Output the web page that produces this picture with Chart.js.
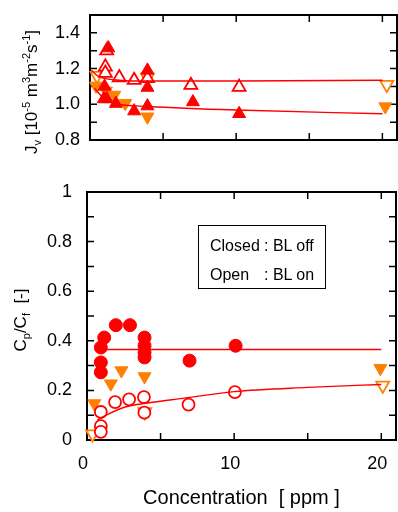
<!DOCTYPE html>
<html>
<head>
<meta charset="utf-8">
<script src="https://cdn.jsdelivr.net/npm/chart.js@4.4.0/dist/chart.umd.min.js"></script>
<style>
  body { margin: 0; width: 398px; height: 512px; background: #fff; position: relative; overflow: hidden;
         font-family: "Liberation Sans", Arial, sans-serif; }
  #top { position: absolute; left: 0; top: 0; }
  #bot { position: absolute; left: 0; top: 170px; }
  #legend { position: absolute; left: 198px; top: 225px; width: 128px; height: 64px; border: 1px solid #000;
            font-size: 16px; color: #000; box-sizing: border-box; padding: 5px 0 0 11px; }
  #legend .row { height: 29px; line-height: 29px; white-space: nowrap; }
  #legend .k { display: inline-block; width: 54px; }
</style>
</head>
<body>
<canvas id="top" width="398" height="160"></canvas>
<canvas id="bot" width="398" height="342"></canvas>
<div id="legend">
  <div class="row"><span class="k">Closed</span>: BL off</div>
  <div class="row"><span class="k">Open</span>: BL on</div>
</div>
<script>
const RED = '#ff0000';
const ORANGE = '#ff8000';
const FONT = '"Liberation Sans", Arial, sans-serif';

// upper panel: permeate flux Jv
const jvOpenX = [1.14, 1.05, 1.05, 2.0, 3.02, 3.93, 6.9, 10.2];
const jvOpenY = [1.30, 1.21, 1.175, 1.15, 1.135, 1.145, 1.107, 1.096];
const jvClosedX = [1.25, 1.0, 0.95, 1.15, 1.77, 3.02, 3.93, 3.93, 3.93, 7.04, 10.2];
const jvClosedY = [1.315, 1.10, 1.03, 1.03, 1.004, 0.962, 1.19, 1.094, 0.99, 1.013, 0.947];
const jvBlOnX = [0.48, 3.93, 20.3];
const jvBlOnY = [1.16, 1.15, 1.11];
const jvBlOffX = [0.41, 1.09, 1.66, 2.41, 3.93, 20.2];
const jvBlOffY = [1.103, 1.075, 1.052, 1.006, 0.93, 0.987];
const jvFitOpenX = [0.1, 0.5, 1, 2, 4, 10, 20];
const jvFitOpenY = [1.19, 1.16, 1.145, 1.135, 1.13, 1.13, 1.135];
const jvFitClosedX = [0.3, 1, 2, 4, 10, 20];
const jvFitClosedY = [1.09, 1.03, 1.0, 0.988, 0.968, 0.947];

// lower panel: Cp/Cf
const cpClosedX = [0.94, 0.94, 0.94, 1.17, 1.96, 2.92, 3.91, 3.91, 3.91, 3.91, 6.97, 10.1];
const cpClosedY = [0.373, 0.313, 0.273, 0.413, 0.463, 0.463, 0.413, 0.38, 0.353, 0.333, 0.32, 0.38];
const cpOpenX = [0.94, 0.94, 0.94, 1.91, 2.86, 3.87, 3.9, 6.9, 10.05];
const cpOpenY = [0.113, 0.056, 0.033, 0.153, 0.164, 0.173, 0.11, 0.143, 0.193];
const cpBlOffX = [0.5, 0.94, 1.62, 2.34, 3.91, 19.94];
const cpBlOffY = [0.147, 0.297, 0.227, 0.28, 0.256, 0.289];
const cpBlOnX = [0.38, 3.93, 20.1];
const cpBlOnY = [0.024, 0.113, 0.22];
const cpFitClosedX = [1, 20];
const cpFitClosedY = [0.365, 0.365];
const cpFitOpenX = [0.7, 1.3, 2.6, 4, 6.5, 10, 15, 20];
const cpFitOpenY = [0.08, 0.1, 0.133, 0.148, 0.168, 0.195, 0.212, 0.224];

const xTicks = [0, 5, 10, 15, 20];
const xMarks = [5, 10, 15, 20];
const jvMarks = [0.9, 1.0, 1.1, 1.2, 1.3, 1.4];
const cpMarks = [0.1, 0.2, 0.3, 0.4, 0.5, 0.6, 0.7, 0.8, 0.9];

const jvTitle = [{t: 'J'}, {t: 'v', s: 'sub'}, {t: ' [10'}, {t: '-5', s: 'sup'}, {t: ' m'}, {t: '3', s: 'sup'},
                 {t: 'm'}, {t: '-2', s: 'sup'}, {t: 's'}, {t: '-1', s: 'sup'}, {t: ']'}];
const cpTitle = [{t: 'C'}, {t: 'p', s: 'sub'}, {t: '/C'}, {t: 'f', s: 'sub'}, {t: '  [-]'}];

function pts(xs, ys) {
  return xs.map((x, i) => ({x: x, y: ys[i]}));
}

function markers(xs, ys, shape, color, filled, down, r) {
  return {
    data: pts(xs, ys),
    showLine: false,
    pointStyle: shape,
    rotation: down ? 180 : 0,
    pointRadius: r,
    pointHoverRadius: r,
    pointBackgroundColor: filled ? color : '#fff',
    pointBorderColor: color,
    pointBorderWidth: filled ? 1 : 1.8,
    clip: false
  };
}

function fitLine(xs, ys) {
  return {
    data: pts(xs, ys),
    showLine: true,
    borderColor: RED,
    borderWidth: 1.4,
    pointRadius: 0,
    cubicInterpolationMode: 'monotone',
    clip: false
  };
}

function drawRich(ctx, parts, cx, cy, size) {
  const fontFor = p => (p.s ? Math.round(size * 0.65) : size) + 'px ' + FONT;
  ctx.save();
  ctx.translate(cx, cy);
  ctx.rotate(-Math.PI / 2);
  ctx.fillStyle = '#000';
  let w = 0;
  parts.forEach(p => { ctx.font = fontFor(p); w += ctx.measureText(p.t).width; });
  let xx = -w / 2;
  parts.forEach(p => {
    ctx.font = fontFor(p);
    let dy = 0;
    if (p.s === 'sub') dy = size * 0.22;
    if (p.s === 'sup') dy = -size * 0.4;
    ctx.fillText(p.t, xx, size * 0.36 + dy);
    xx += ctx.measureText(p.t).width;
  });
  ctx.restore();
}

// box frame with inward ticks on all four sides, plus the rotated y title
const framePlugin = {
  id: 'frame',
  beforeDatasetsDraw(chart, args, opts) {
    const {ctx, chartArea: a, scales: {x, y}} = chart;
    ctx.save();
    ctx.strokeStyle = '#000';
    ctx.lineWidth = 1.5;
    ctx.beginPath();
    opts.xMarks.forEach(v => {
      const p = x.getPixelForValue(v);
      ctx.moveTo(p, a.bottom); ctx.lineTo(p, a.bottom - 7);
      ctx.moveTo(p, a.top); ctx.lineTo(p, a.top + 7);
    });
    opts.yMarks.forEach(v => {
      const p = y.getPixelForValue(v);
      ctx.moveTo(a.left, p); ctx.lineTo(a.left + 7, p);
      ctx.moveTo(a.right, p); ctx.lineTo(a.right - 7, p);
    });
    ctx.stroke();
    ctx.lineWidth = 2;
    ctx.strokeRect(a.left, a.top, a.right - a.left, a.bottom - a.top);
    ctx.restore();
    drawRich(ctx, opts.title, opts.titleX, opts.titleY, opts.titleSize);
  }
};

const tickFont = {family: FONT, size: 18};

new Chart(document.getElementById('top'), {
  type: 'scatter',
  data: {
    datasets: [
      fitLine(jvFitOpenX, jvFitOpenY),
      fitLine(jvFitClosedX, jvFitClosedY),
      markers(jvClosedX, jvClosedY, 'triangle', RED, true, false, 7.5),
      markers(jvOpenX, jvOpenY, 'triangle', RED, false, false, 7.5),
      markers(jvBlOffX, jvBlOffY, 'triangle', ORANGE, true, true, 7.5),
      markers(jvBlOnX, jvBlOnY, 'triangle', ORANGE, false, true, 7.5)
    ]
  },
  options: {
    responsive: false,
    animation: false,
    events: [],
    layout: {autoPadding: false, padding: {top: 15, right: 1, left: 0, bottom: 0}},
    plugins: {
      legend: {display: false},
      tooltip: {enabled: false},
      frame: {xMarks: xMarks, yMarks: jvMarks, title: jvTitle, titleX: 31, titleY: 92, titleSize: 17}
    },
    scales: {
      x: {
        type: 'linear', min: 0, max: 21,
        grid: {display: false}, border: {display: false},
        ticks: {display: false},
        afterFit(s) { s.height = 20; }
      },
      y: {
        min: 0.8, max: 1.5,
        grid: {display: false, drawTicks: false}, border: {display: false},
        ticks: {
          stepSize: 0.1, autoSkip: false, padding: 10, color: '#000', font: tickFont,
          callback: v => {
            const r = Math.round(v * 10);
            return (r % 2 === 0 && r < 15) ? (r / 10).toFixed(1) : '';
          }
        },
        afterFit(s) { s.width = 90; s.paddingTop = 0; s.paddingBottom = 0; }
      }
    }
  },
  plugins: [framePlugin]
});

new Chart(document.getElementById('bot'), {
  type: 'scatter',
  data: {
    datasets: [
      fitLine(cpFitClosedX, cpFitClosedY),
      fitLine(cpFitOpenX, cpFitOpenY),
      markers(cpClosedX, cpClosedY, 'circle', RED, true, false, 6.5),
      markers(cpOpenX, cpOpenY, 'circle', RED, false, false, 6),
      markers(cpBlOffX, cpBlOffY, 'triangle', ORANGE, true, true, 7.5),
      markers(cpBlOnX, cpBlOnY, 'triangle', ORANGE, false, true, 7.5)
    ]
  },
  options: {
    responsive: false,
    animation: false,
    events: [],
    layout: {autoPadding: false, padding: {top: 22, right: 2, left: 0, bottom: 2}},
    plugins: {
      legend: {display: false},
      tooltip: {enabled: false},
      frame: {xMarks: xMarks, yMarks: cpMarks, title: cpTitle, titleX: 20, titleY: 150, titleSize: 17}
    },
    scales: {
      x: {
        type: 'linear', min: 0, max: 21,
        grid: {display: false, drawTicks: false}, border: {display: false},
        afterBuildTicks(s) { s.ticks = xTicks.map(v => ({value: v})); },
        ticks: {
          autoSkip: false, padding: 13, labelOffset: -4, color: '#000', font: tickFont,
          callback: v => (v % 10 === 0 ? String(v) : '')
        },
        title: {
          display: true, text: 'Concentration  [ ppm ]', color: '#000',
          font: {family: FONT, size: 20},
          padding: {top: 0, bottom: 0}
        },
        afterFit(s) { s.height = 70; s.paddingLeft = 0; s.paddingRight = 0; }
      },
      y: {
        min: 0, max: 1,
        grid: {display: false, drawTicks: false}, border: {display: false},
        ticks: {
          stepSize: 0.1, autoSkip: false, padding: 15, color: '#000', font: tickFont,
          callback: v => {
            const r = Math.round(v * 10);
            return r % 2 === 0 ? String(r / 10) : '';
          }
        },
        afterFit(s) { s.width = 87; s.paddingTop = 0; s.paddingBottom = 0; }
      }
    }
  },
  plugins: [framePlugin]
});
</script>
</body>
</html>
